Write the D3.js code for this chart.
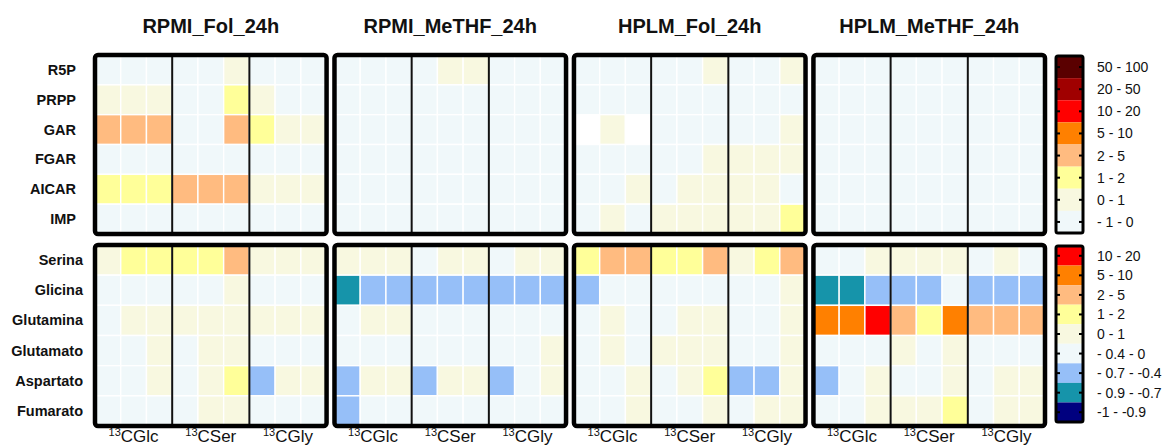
<!DOCTYPE html>
<html>
<head>
<meta charset="utf-8">
<script src="https://cdn.jsdelivr.net/npm/d3@7"></script>
<style>
  body { margin: 0; background: #fff; }
  text { font-family: "Liberation Sans", Arial, sans-serif; fill: #111; }
</style>
</head>
<body>
<svg id="chart" width="1165" height="448"></svg>
<script>
// ---- data ----
var panels = ["RPMI_Fol_24h", "RPMI_MeTHF_24h", "HPLM_Fol_24h", "HPLM_MeTHF_24h"];
var tracers = ["CGlc", "CSer", "CGly"];
var replicates = [1, 2, 3];
var topRows = ["R5P", "PRPP", "GAR", "FGAR", "AICAR", "IMP"];
var bottomRows = ["Serina", "Glicina", "Glutamina", "Glutamato", "Aspartato", "Fumarato"];

var topBreaks = [0, 1, 2, 5, 10, 20, 50];
var topColors = ["#f0f8fa", "#f8f8e0", "#ffff99", "#ffbb80", "#ff8000", "#ff0000", "#a00000", "#5a0000"];
var topLabels = ["- 1 - 0", "0 - 1", "1 - 2", "2 - 5", "5 - 10", "10 - 20", "20 - 50", "50 - 100"];

var bottomBreaks = [-0.9, -0.7, -0.4, 0, 1, 2, 5, 10];
var bottomColors = ["#00007f", "#1694aa", "#96bff8", "#f0f8fa", "#f8f8e0", "#ffff99", "#ffbb80", "#ff8000", "#ff0000"];
var bottomLabels = ["-1 - -0.9", "- 0.9 - -0.7", "- 0.7 - -0.4", "- 0.4 - 0", "0 - 1", "1 - 2", "2 - 5", "5 - 10", "10 - 20"];

// top block: rows R5P..IMP, columns Glc x3, Ser x3, Gly x3
var rpmiFolTop = [
    [-0.2, -0.1, -0.2, -0.1, -0.2, 0.4, -0.1, -0.2, -0.1],
    [0.5, 0.4, 0.5, -0.1, -0.2, 1.6, 0.3, -0.1, -0.2],
    [3.1, 3.0, 3.2, -0.1, -0.2, 2.8, 1.5, 0.6, 0.5],
    [-0.1, -0.2, -0.1, -0.2, -0.1, -0.2, -0.1, -0.1, -0.2],
    [1.4, 1.5, 1.3, 2.6, 2.7, 2.5, 0.6, 0.5, 0.6],
    [-0.1, -0.2, -0.1, -0.1, -0.2, -0.1, -0.2, -0.1, -0.1]
];
var rpmiMethfTop = [
    [-0.1, -0.2, -0.1, -0.2, 0.3, 0.4, -0.1, -0.2, -0.1],
    [-0.2, -0.1, -0.2, -0.1, -0.2, -0.1, -0.2, -0.1, -0.2],
    [-0.1, -0.2, -0.1, -0.2, -0.1, -0.2, -0.1, -0.2, -0.1],
    [-0.2, -0.1, -0.2, -0.1, -0.2, -0.1, -0.2, -0.1, -0.2],
    [-0.1, -0.2, -0.1, -0.2, -0.1, -0.2, -0.1, -0.2, -0.1],
    [-0.2, -0.1, -0.2, -0.1, -0.2, -0.1, -0.2, -0.1, -0.2]
];
var hplmFolTop = [
    [-0.1, -0.2, -0.1, -0.2, -0.1, 0.3, -0.2, -0.1, 0.4],
    [-0.2, -0.1, -0.2, -0.1, -0.2, -0.1, -0.2, -0.1, -0.2],
    [null, 0.3, null, -0.2, -0.1, -0.2, -0.1, -0.2, 0.3],
    [-0.2, -0.1, -0.2, -0.1, -0.2, 0.4, 0.3, 0.4, 0.3],
    [-0.1, -0.2, 0.3, -0.2, 0.4, 0.3, 0.4, 0.3, -0.1],
    [-0.2, 0.3, -0.1, 0.4, 0.3, 0.4, 0.3, 0.4, 1.3]
];
var hplmMethfTop = [
    [-0.1, -0.2, -0.1, -0.2, -0.1, -0.2, -0.1, -0.2, -0.1],
    [-0.2, -0.1, -0.2, -0.1, -0.2, -0.1, -0.2, -0.1, -0.2],
    [-0.1, -0.2, -0.1, -0.2, -0.1, -0.2, -0.1, -0.2, -0.1],
    [-0.2, -0.1, -0.2, -0.1, -0.2, -0.1, -0.2, -0.1, -0.2],
    [-0.1, -0.2, -0.1, -0.2, -0.1, -0.2, -0.1, -0.2, -0.1],
    [-0.2, -0.1, -0.2, -0.1, -0.2, -0.1, -0.2, -0.1, -0.2]
];

// bottom block: rows Serina..Fumarato
var rpmiFolBottom = [
    [0.6, 1.4, 1.3, 1.5, 1.4, 2.7, 0.5, 0.4, 0.5],
    [-0.1, -0.2, -0.1, -0.2, -0.1, 0.3, -0.2, -0.1, -0.2],
    [-0.2, 0.4, 0.3, 0.4, 0.3, 0.4, 0.3, 0.4, 0.3],
    [-0.1, -0.2, 0.3, -0.1, 0.4, 0.3, -0.2, -0.1, -0.2],
    [-0.2, -0.1, 0.4, -0.2, 0.3, 1.4, -0.5, 0.3, 0.4],
    [-0.1, -0.2, -0.1, -0.2, 0.3, 0.4, -0.1, -0.2, -0.1]
];
var rpmiMethfBottom = [
    [0.4, 0.3, 0.4, -0.2, 0.3, 0.4, -0.1, 0.3, 0.4],
    [-0.8, -0.5, -0.6, -0.5, -0.6, -0.5, -0.6, -0.5, -0.6],
    [-0.2, 0.3, 0.4, -0.1, -0.2, -0.1, -0.2, -0.1, -0.2],
    [-0.1, -0.2, -0.1, -0.2, -0.1, -0.2, -0.1, -0.2, 0.3],
    [-0.5, 0.4, 0.3, -0.6, 0.4, 0.3, -0.5, -0.2, 0.4],
    [-0.6, -0.1, -0.2, -0.1, -0.2, -0.1, -0.2, -0.1, -0.2]
];
var hplmFolBottom = [
    [1.5, 2.8, 2.9, 1.4, 1.5, 2.7, 0.6, 1.3, 2.6],
    [-0.5, -0.1, -0.2, -0.1, -0.2, -0.1, -0.2, -0.1, 0.3],
    [-0.2, 0.3, -0.1, -0.2, 0.4, 0.3, -0.1, -0.2, 0.4],
    [-0.1, 0.4, -0.2, 0.3, 0.4, 0.3, -0.2, -0.1, 0.3],
    [-0.2, -0.1, 0.4, -0.2, 0.3, 1.4, -0.5, -0.6, 0.4],
    [-0.1, -0.2, 0.3, -0.1, -0.2, 0.4, -0.1, 0.3, 0.4]
];
var hplmMethfBottom = [
    [-0.1, -0.2, 0.3, 0.4, 0.3, 0.4, -0.2, 0.3, -0.1],
    [-0.8, -0.8, -0.5, -0.6, -0.5, -0.2, -0.5, -0.6, -0.5],
    [6.5, 7.1, 12.4, 3.2, 1.6, 6.8, 3.1, 2.9, 3.3],
    [-0.2, -0.1, -0.2, 0.3, -0.1, 0.4, -0.2, -0.1, -0.2],
    [-0.5, -0.1, 0.4, -0.2, -0.1, 0.3, -0.2, 0.4, 0.3],
    [-0.1, -0.2, 0.3, 0.4, 0.3, 1.5, -0.1, 0.4, 0.3]
];

var topValues = [rpmiFolTop, rpmiMethfTop, hplmFolTop, hplmMethfTop];
var bottomValues = [rpmiFolBottom, rpmiMethfBottom, hplmFolBottom, hplmMethfBottom];

// ---- drawing ----
var svg = d3.select("#chart");

var topColor = d3.scaleThreshold().domain(topBreaks).range(topColors);
var bottomColor = d3.scaleThreshold().domain(bottomBreaks).range(bottomColors);

var xPanel = d3.scaleBand().domain(panels).range([95, 1045]).paddingInner(0.033);
var columns = d3.range(tracers.length * replicates.length);
var xCol = d3.scaleBand().domain(columns).range([0, xPanel.bandwidth()]);
var xTracer = d3.scaleBand().domain(tracers).range([0, xPanel.bandwidth()]);

var yTop = d3.scaleBand().domain(topRows).range([55, 234]);
var yBottom = d3.scaleBand().domain(bottomRows).range([245, 426]);

// titles
svg.selectAll(".title")
    .data(panels)
    .enter().append("text")
    .attr("class", "title")
    .attr("x", function(d) { return xPanel(d) + xPanel.bandwidth() / 2; })
    .attr("y", 33)
    .attr("text-anchor", "middle")
    .style("font-size", "20px")
    .style("font-weight", "bold")
    .text(function(d) { return d; });

function drawBlock(rows, yScale, values, color, labelX) {
    var g = svg.append("g");

    g.selectAll(".rowlabel")
        .data(rows)
        .enter().append("text")
        .attr("x", labelX)
        .attr("y", function(d) { return yScale(d) + yScale.bandwidth() / 2 + 5; })
        .attr("text-anchor", "end")
        .style("font-size", "14.5px")
        .style("font-weight", "bold")
        .text(function(d) { return d; });

    panels.forEach(function(p, pi) {
        var cells = [];
        values[pi].forEach(function(row, ri) {
            row.forEach(function(v, ci) {
                cells.push({row: rows[ri], col: ci, value: v});
            });
        });

        var pg = g.append("g").attr("transform", "translate(" + xPanel(p) + ",0)");

        pg.selectAll("rect.cell")
            .data(cells)
            .enter().append("rect")
            .attr("class", "cell")
            .attr("x", function(d) { return xCol(d.col); })
            .attr("y", function(d) { return yScale(d.row); })
            .attr("width", xCol.bandwidth())
            .attr("height", yScale.bandwidth())
            .attr("fill", function(d) { return d.value === null ? "#ffffff" : color(d.value); })
            .attr("stroke", "#ffffff")
            .attr("stroke-width", 1.4);

        // separators between tracers
        pg.selectAll("line.sep")
            .data(tracers.slice(1))
            .enter().append("line")
            .attr("x1", function(d) { return xTracer(d); })
            .attr("x2", function(d) { return xTracer(d); })
            .attr("y1", yScale.range()[0])
            .attr("y2", yScale.range()[1])
            .attr("stroke", "#111")
            .attr("stroke-width", 2);

        pg.append("rect")
            .attr("x", 0)
            .attr("y", yScale.range()[0])
            .attr("width", xPanel.bandwidth())
            .attr("height", yScale.range()[1] - yScale.range()[0])
            .attr("rx", 3)
            .attr("fill", "none")
            .attr("stroke", "#000")
            .attr("stroke-width", 4.5);
    });
}

drawBlock(topRows, yTop, topValues, topColor, 76);
drawBlock(bottomRows, yBottom, bottomValues, bottomColor, 83);

// tracer labels
panels.forEach(function(p) {
    var t = svg.append("g").selectAll("text")
        .data(tracers)
        .enter().append("text")
        .attr("x", function(d) { return xPanel(p) + xTracer(d) + xTracer.bandwidth() / 2; })
        .attr("y", 442)
        .attr("text-anchor", "middle")
        .style("font-size", "17px");
    t.append("tspan")
        .attr("dy", -6)
        .style("font-size", "11px")
        .text("13");
    t.append("tspan")
        .attr("dy", 6)
        .text(function(d) { return d; });
});

// legends
function drawLegend(colors, labels, y0, y1) {
    var order = colors.map(function(c, i) { return i; }).reverse();
    var y = d3.scaleBand().domain(order).range([y0, y1]);
    var x0 = 1056, w = 27;
    var g = svg.append("g");

    g.selectAll("rect.bin")
        .data(order)
        .enter().append("rect")
        .attr("x", x0)
        .attr("y", function(d) { return y(d); })
        .attr("width", w)
        .attr("height", y.bandwidth())
        .attr("fill", function(d) { return colors[d]; });

    g.selectAll("line.tl")
        .data(order)
        .enter().append("line")
        .attr("x1", x0).attr("x2", x0 + 4)
        .attr("y1", function(d) { return y(d) + y.bandwidth() / 2; })
        .attr("y2", function(d) { return y(d) + y.bandwidth() / 2; })
        .attr("stroke", "#000").attr("stroke-width", 2);

    g.selectAll("line.tr")
        .data(order)
        .enter().append("line")
        .attr("x1", x0 + w - 4).attr("x2", x0 + w)
        .attr("y1", function(d) { return y(d) + y.bandwidth() / 2; })
        .attr("y2", function(d) { return y(d) + y.bandwidth() / 2; })
        .attr("stroke", "#000").attr("stroke-width", 2);

    g.append("rect")
        .attr("x", x0).attr("y", y0)
        .attr("width", w).attr("height", y1 - y0)
        .attr("rx", 2)
        .attr("fill", "none")
        .attr("stroke", "#000")
        .attr("stroke-width", 3);

    g.selectAll("text")
        .data(order)
        .enter().append("text")
        .attr("x", 1097)
        .attr("y", function(d) { return y(d) + y.bandwidth() / 2 + 5; })
        .style("font-size", "14px")
        .text(function(d) { return labels[d]; });
}

drawLegend(topColors, topLabels, 56, 233);
drawLegend(bottomColors, bottomLabels, 246, 422);
</script>
</body>
</html>
